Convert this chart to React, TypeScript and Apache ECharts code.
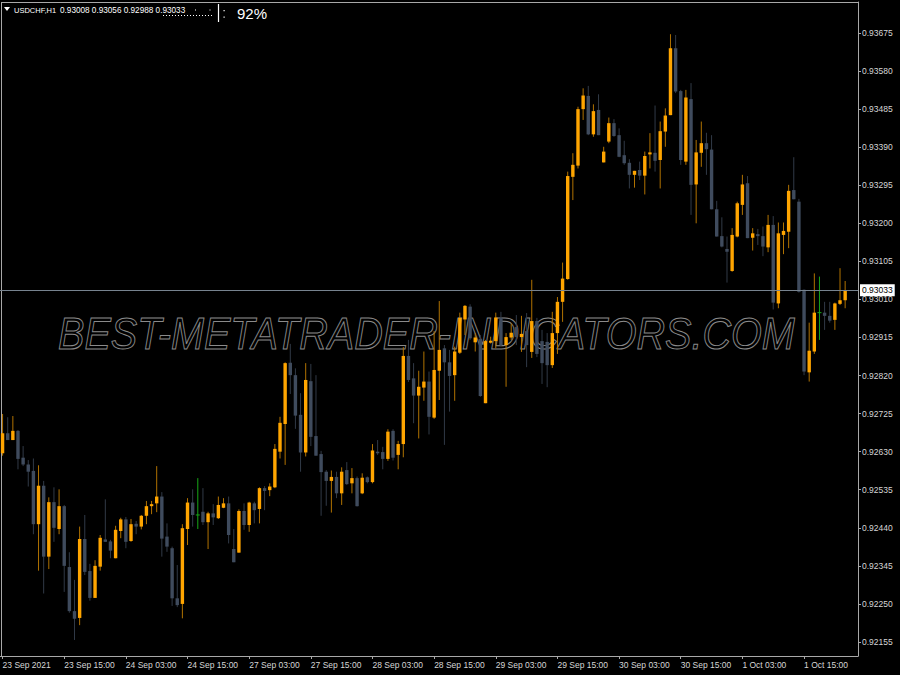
import React, { useEffect, useRef } from "react";
import * as echarts from "echarts";

const SYMBOL = "USDCHF,H1";
const HEADER_OHLC = [0.93008, 0.93056, 0.92988, 0.93033];
const PERCENT_TEXT = "92%";
const WATERMARK = "BEST-METATRADER-INDICATORS.COM";
const LAST_PRICE = 0.93033;

const OPEN = [
  0.92626, 0.92676, 0.92659, 0.92682, 0.92615, 0.92598, 0.92582, 0.92449, 0.92545, 0.92368,
  0.92504, 0.92437, 0.92494, 0.92342, 0.92232, 0.92215, 0.92412, 0.92332, 0.92265, 0.92343,
  0.92411, 0.92406, 0.92364, 0.92432, 0.92461, 0.92407, 0.9245, 0.92443, 0.9247, 0.92494,
  0.92501, 0.92518, 0.92418, 0.92389, 0.92264, 0.9225, 0.92437, 0.92503, 0.92472, 0.9248,
  0.92454, 0.92476, 0.92464, 0.9249, 0.92501, 0.92387, 0.92378, 0.92482, 0.92447, 0.92501,
  0.92487, 0.92539, 0.92534, 0.92541, 0.9263, 0.92699, 0.92852, 0.92821, 0.92722, 0.92628,
  0.92806, 0.92669, 0.92624, 0.9258, 0.92557, 0.92567, 0.92526, 0.92584, 0.92551, 0.92564,
  0.92526, 0.92566, 0.92554, 0.9263, 0.92629, 0.92612, 0.92682, 0.92622, 0.92649, 0.92869,
  0.92813, 0.9277, 0.9279, 0.92805, 0.92715, 0.92832, 0.92888, 0.92853, 0.92821, 0.92877,
  0.9296, 0.92992, 0.92903, 0.92911, 0.92751, 0.92902, 0.92906, 0.92964, 0.92896, 0.92915,
  0.92941, 0.92916, 0.92931, 0.92879, 0.92956, 0.92906, 0.92904, 0.92846, 0.92926, 0.93004,
  0.93061, 0.93316, 0.93344, 0.93485, 0.93518, 0.93422, 0.93483, 0.93352, 0.93404, 0.9345,
  0.9342, 0.9337, 0.93351, 0.93321, 0.93333, 0.93319, 0.93372, 0.93376, 0.93358, 0.93429,
  0.9347, 0.93637, 0.9353, 0.93354, 0.9351, 0.93297, 0.93376, 0.934, 0.93384, 0.93235,
  0.93168, 0.93136, 0.93081, 0.93167, 0.93246, 0.933, 0.93164, 0.93173, 0.93168, 0.9314,
  0.93196, 0.93, 0.93171, 0.93179, 0.93283, 0.93254, 0.93034, 0.92828, 0.9288, 0.92977,
  0.92977, 0.92969, 0.92959, 0.92999, 0.93008,
];

const HIGH = [
  0.92724, 0.92716, 0.92719, 0.92684, 0.92644, 0.92609, 0.92613, 0.92596, 0.92557, 0.92516,
  0.92541, 0.92536, 0.92497, 0.92379, 0.9231, 0.92443, 0.92472, 0.9235, 0.92359, 0.92422,
  0.92511, 0.9241, 0.92445, 0.92465, 0.92467, 0.92462, 0.92457, 0.92472, 0.92507, 0.92507,
  0.92594, 0.92529, 0.92451, 0.92393, 0.92347, 0.92449, 0.92514, 0.92536, 0.92564, 0.92539,
  0.9248, 0.92499, 0.92518, 0.92514, 0.92518, 0.92437, 0.92486, 0.92501, 0.92505, 0.92505,
  0.92541, 0.92544, 0.92551, 0.92649, 0.92717, 0.92853, 0.92899, 0.92838, 0.92776, 0.92851,
  0.92849, 0.92821, 0.92632, 0.92584, 0.92583, 0.9258, 0.92591, 0.92604, 0.92589, 0.92568,
  0.92576, 0.92568, 0.92649, 0.92659, 0.92642, 0.92686, 0.92686, 0.92657, 0.92891, 0.92909,
  0.92851, 0.92832, 0.9288, 0.9283, 0.92931, 0.93006, 0.92896, 0.92884, 0.92892, 0.92977,
  0.92996, 0.92998, 0.92926, 0.92921, 0.92909, 0.92917, 0.92977, 0.92979, 0.92926, 0.9295,
  0.92971, 0.92969, 0.92976, 0.93059, 0.92964, 0.92934, 0.92926, 0.92979, 0.93016, 0.93102,
  0.93329, 0.93375, 0.93491, 0.93537, 0.93543, 0.93497, 0.93522, 0.93391, 0.93464, 0.9346,
  0.93437, 0.93406, 0.9336, 0.93331, 0.93354, 0.93379, 0.93425, 0.93494, 0.93454, 0.93487,
  0.93672, 0.9367, 0.93533, 0.93533, 0.9355, 0.93408, 0.93454, 0.93426, 0.9342, 0.93256,
  0.93215, 0.93167, 0.93188, 0.93254, 0.93321, 0.93318, 0.93188, 0.93186, 0.93192, 0.93221,
  0.93218, 0.93202, 0.93202, 0.93296, 0.93365, 0.93261, 0.93035, 0.92952, 0.93075, 0.93067,
  0.93004, 0.93004, 0.93002, 0.93088, 0.93056,
];

const LOW = [
  0.9262, 0.92659, 0.92659, 0.92586, 0.92594, 0.92543, 0.92424, 0.92333, 0.92276, 0.92337,
  0.92405, 0.92424, 0.9228, 0.92228, 0.9216, 0.92197, 0.92322, 0.92258, 0.92265, 0.92333,
  0.92405, 0.92364, 0.92364, 0.92414, 0.92389, 0.92405, 0.92424, 0.92436, 0.92449, 0.92474,
  0.92479, 0.92368, 0.9238, 0.92245, 0.92242, 0.92214, 0.92397, 0.92443, 0.92437, 0.92447,
  0.92387, 0.92447, 0.92462, 0.92489, 0.92401, 0.92354, 0.92378, 0.92435, 0.9243, 0.92451,
  0.92451, 0.92484, 0.92519, 0.92539, 0.92613, 0.92597, 0.92774, 0.92687, 0.9258, 0.92618,
  0.92644, 0.9262, 0.9247, 0.92495, 0.92478, 0.92514, 0.92497, 0.92547, 0.92526, 0.92493,
  0.92524, 0.92551, 0.92551, 0.92622, 0.92586, 0.92607, 0.92608, 0.92586, 0.92616, 0.92804,
  0.92701, 0.92663, 0.92757, 0.92673, 0.92712, 0.92759, 0.92647, 0.9273, 0.92757, 0.92874,
  0.92921, 0.92909, 0.9288, 0.92767, 0.92751, 0.929, 0.92888, 0.92894, 0.92792, 0.92909,
  0.92896, 0.92879, 0.92841, 0.92864, 0.92866, 0.92799, 0.92791, 0.92839, 0.92874, 0.92954,
  0.93059, 0.93258, 0.93337, 0.93458, 0.9342, 0.93416, 0.9342, 0.93352, 0.934, 0.93416,
  0.93365, 0.93346, 0.93287, 0.93289, 0.93308, 0.93272, 0.93337, 0.93329, 0.93287, 0.93391,
  0.9347, 0.93525, 0.93346, 0.93346, 0.93221, 0.932, 0.93341, 0.93321, 0.93235, 0.93167,
  0.9314, 0.93052, 0.93079, 0.93165, 0.93221, 0.93163, 0.93132, 0.93146, 0.93118, 0.93128,
  0.92985, 0.92988, 0.93123, 0.93138, 0.9326, 0.93027, 0.92821, 0.92805, 0.92874, 0.92909,
  0.92934, 0.92952, 0.92934, 0.92996, 0.92988,
];

const CLOSE = [
  0.92676, 0.92659, 0.92682, 0.92612, 0.92598, 0.9258, 0.92449, 0.92545, 0.92368, 0.92504,
  0.9244, 0.92494, 0.92345, 0.92232, 0.92213, 0.92412, 0.9233, 0.92265, 0.92345, 0.92415,
  0.92405, 0.92383, 0.92435, 0.92461, 0.92405, 0.92449, 0.92443, 0.9247, 0.92494, 0.92499,
  0.92518, 0.92413, 0.92393, 0.92264, 0.92247, 0.92439, 0.92503, 0.92472, 0.92472, 0.92454,
  0.92476, 0.92466, 0.92497, 0.92501, 0.92422, 0.92354, 0.92482, 0.92447, 0.92503, 0.92484,
  0.92539, 0.92532, 0.92543, 0.92637, 0.92702, 0.92851, 0.92821, 0.9272, 0.92628, 0.92809,
  0.92667, 0.9262, 0.92579, 0.92557, 0.92567, 0.92526, 0.9258, 0.92549, 0.92564, 0.92494,
  0.92565, 0.92554, 0.92633, 0.92626, 0.92612, 0.9268, 0.92615, 0.92649, 0.92869, 0.92809,
  0.9277, 0.92792, 0.92805, 0.92717, 0.92834, 0.92884, 0.92853, 0.92819, 0.9288, 0.92964,
  0.92994, 0.92913, 0.92915, 0.92769, 0.92906, 0.92907, 0.92965, 0.92896, 0.92916, 0.92927,
  0.92916, 0.92924, 0.92896, 0.92956, 0.92874, 0.92851, 0.92846, 0.92926, 0.93004, 0.93062,
  0.93318, 0.93346, 0.93485, 0.93519, 0.93422, 0.9348, 0.9342, 0.93379, 0.9345, 0.93418,
  0.93366, 0.9335, 0.93321, 0.93331, 0.93319, 0.93368, 0.93377, 0.93356, 0.9343, 0.93469,
  0.93637, 0.93529, 0.93358, 0.93514, 0.93296, 0.93377, 0.934, 0.93385, 0.93235, 0.93167,
  0.93142, 0.93129, 0.93171, 0.9325, 0.93297, 0.93163, 0.93175, 0.93168, 0.93142, 0.93196,
  0.93002, 0.93175, 0.93181, 0.93281, 0.9326, 0.93029, 0.9283, 0.92882, 0.92977, 0.92977,
  0.92969, 0.92957, 0.93, 0.93008, 0.93033,
];

const Y_TICKS = [
  0.92155, 0.9225, 0.92345, 0.9244, 0.92535, 0.9263, 0.92725, 0.9282, 0.92915,
  0.9301, 0.93105, 0.932, 0.93295, 0.9339, 0.93485, 0.9358, 0.93675,
];

const X_TICK_LABELS = [
  "23 Sep 2021", "23 Sep 15:00", "24 Sep 03:00", "24 Sep 15:00", "27 Sep 03:00",
  "27 Sep 15:00", "28 Sep 03:00", "28 Sep 15:00", "29 Sep 03:00", "29 Sep 15:00",
  "30 Sep 03:00", "30 Sep 15:00", "1 Oct 03:00", "1 Oct 15:00",
];
const X_TICK_EVERY = 12;
const START_UTC = Date.UTC(2021, 8, 23, 3);
const EMPTY_SLOTS_RIGHT = 2;

// layout / style constants
const Y_MIN = 0.9212;
const Y_MAX = 0.937524;
const FONT = '"Liberation Sans", Arial, sans-serif';
const TEXT = "#d6d6d6";
const FRAME = "#a8a8a8";
const BULL = "#ffa500";
const BULL_WICK = "#b07200";
const BEAR = "#3f4b5d";
const BEAR_WICK = "#313a47";
const DOJI = "#17a817";
const PRICE_LINE = "#77838f";

const MONTHS = ["Jan", "Feb", "Mar", "Apr", "May", "Jun", "Jul", "Aug", "Sep", "Oct", "Nov", "Dec"];

function buildCategories(n: number): string[] {
  const out: string[] = [];
  let t = START_UTC;
  while (out.length < n) {
    const d = new Date(t);
    const wd = d.getUTCDay();
    if (wd !== 0 && wd !== 6) {
      const hh = String(d.getUTCHours()).padStart(2, "0");
      out.push(`${d.getUTCDate()} ${MONTHS[d.getUTCMonth()]} ${hh}:00`);
    }
    t += 3600000;
  }
  return out;
}

export default function App() {
  const ref = useRef<HTMLDivElement>(null);

  useEffect(() => {
    document.body.style.margin = "0";
    document.body.style.background = "#000";
    const n = OPEN.length;
    const categories = buildCategories(n + EMPTY_SLOTS_RIGHT);
    const data = OPEN.map((o, i) => [i, o, CLOSE[i], LOW[i], HIGH[i]]);
    const isTick = (i: number) => i % X_TICK_EVERY === 0 && i / X_TICK_EVERY < X_TICK_LABELS.length;

    const chart = echarts.init(ref.current!, undefined, { renderer: "svg", width: 900, height: 675 });
    const option: any = {
      animation: false,
      backgroundColor: "#000",
      grid: { left: 0, top: 2, right: 42, bottom: 19, outerBoundsMode: "none" },
      xAxis: {
        type: "category",
        data: categories,
        boundaryGap: true,
        axisLine: { show: true, lineStyle: { color: FRAME, width: 1 } },
        axisTick: {
          show: true,
          alignWithLabel: true,
          length: 3,
          interval: (i: number) => isTick(i),
          lineStyle: { color: FRAME },
        },
        axisLabel: {
          interval: (i: number) => isTick(i),
          formatter: (_v: string, i: number) => X_TICK_LABELS[i / X_TICK_EVERY] ?? "",
          align: "left",
          color: TEXT,
          fontSize: 8.5,
          fontFamily: FONT,
          margin: 4,
        },
        splitLine: { show: false },
      },
      yAxis: {
        type: "value",
        position: "right",
        min: Y_MIN,
        max: Y_MAX,
        axisLine: { show: true, lineStyle: { color: FRAME, width: 1 } },
        axisTick: { show: true, length: 3, customValues: Y_TICKS, lineStyle: { color: FRAME } },
        axisLabel: {
          customValues: Y_TICKS,
          formatter: (v: number) => v.toFixed(5),
          color: TEXT,
          fontSize: 8.5,
          fontFamily: FONT,
          margin: 4,
        },
        splitLine: { show: false },
      },
      graphic: [
        {
          type: "text",
          x: 58,
          y: 334,
          scaleX: 0.9,
          z: 0,
          silent: true,
          style: {
            text: WATERMARK,
            fontSize: 44,
            fontStyle: "italic",
            fontFamily: FONT,
            fill: "rgba(0,0,0,0)",
            stroke: "#8a8a8a",
            lineWidth: 1,
            verticalAlign: "middle",
            align: "left",
          },
        },
        { type: "line", shape: { x1: 1.5, y1: 2, x2: 1.5, y2: 656 }, style: { stroke: FRAME, lineWidth: 1 } },
        { type: "line", shape: { x1: 1.5, y1: 2.5, x2: 858, y2: 2.5 }, style: { stroke: FRAME, lineWidth: 1 } },
        { type: "polygon", shape: { points: [[4, 7], [10, 7], [7, 11]] }, style: { fill: "#ffffff" } },
        {
          type: "text",
          x: 14,
          y: 10,
          style: { text: SYMBOL, fill: "#ffffff", fontSize: 7.5, fontFamily: FONT, verticalAlign: "middle" },
        },
        {
          type: "text",
          x: 60,
          y: 10,
          style: {
            text: HEADER_OHLC.map((v) => v.toFixed(5)).join(" "),
            fill: "#ffffff",
            fontSize: 8.2,
            fontFamily: FONT,
            verticalAlign: "middle",
          },
        },
        {
          type: "line",
          shape: { x1: 163, y1: 15.5, x2: 214, y2: 15.5 },
          style: { stroke: "#ffffff", lineWidth: 1, lineDash: [1, 2] },
        },
        { type: "rect", shape: { x: 195, y: 9.5, width: 1, height: 1 }, style: { fill: "#ffffff" } },
        { type: "rect", shape: { x: 209.5, y: 9.5, width: 1, height: 1 }, style: { fill: "#ffffff" } },
        { type: "line", shape: { x1: 218.5, y1: 4, x2: 218.5, y2: 22 }, style: { stroke: "#ffffff", lineWidth: 1.2 } },
        { type: "rect", shape: { x: 223.5, y: 10, width: 1.2, height: 1.2 }, style: { fill: "#ffffff" } },
        { type: "rect", shape: { x: 223.5, y: 16.5, width: 1.2, height: 1.2 }, style: { fill: "#ffffff" } },
        {
          type: "text",
          x: 237,
          y: 13,
          style: { text: PERCENT_TEXT, fill: "#ffffff", fontSize: 15, fontFamily: FONT, verticalAlign: "middle" },
        },
      ],
      series: [
        {
          type: "custom",
          name: SYMBOL,
          data,
          encode: { x: 0, y: [1, 2, 3, 4] },
          clip: true,
          renderItem: (_params: any, api: any) => {
            const i = api.value(0);
            const o = api.value(1);
            const c = api.value(2);
            const l = api.value(3);
            const h = api.value(4);
            const po = api.coord([i, o]);
            const pc = api.coord([i, c]);
            const pl = api.coord([i, l]);
            const ph = api.coord([i, h]);
            const x = po[0];
            const bw = 3.4;
            if (o === c) {
              return {
                type: "group",
                children: [
                  { type: "line", shape: { x1: x, y1: ph[1], x2: x, y2: pl[1] }, style: { stroke: DOJI, lineWidth: 1 } },
                  { type: "line", shape: { x1: x - 2, y1: po[1], x2: x + 2, y2: po[1] }, style: { stroke: DOJI, lineWidth: 1 } },
                ],
              };
            }
            const bull = c > o;
            const top = Math.min(po[1], pc[1]);
            const hgt = Math.max(Math.abs(po[1] - pc[1]), 1);
            return {
              type: "group",
              children: [
                {
                  type: "line",
                  shape: { x1: x, y1: ph[1], x2: x, y2: pl[1] },
                  style: { stroke: bull ? BULL_WICK : BEAR_WICK, lineWidth: 1 },
                },
                {
                  type: "rect",
                  shape: { x: x - bw / 2, y: top, width: bw, height: hgt },
                  style: { fill: bull ? BULL : BEAR },
                },
              ],
            };
          },
        },
        {
          type: "line",
          data: [],
          silent: true,
          showSymbol: false,
          markLine: {
            silent: true,
            precision: 5,
            symbol: ["none", "none"],
            lineStyle: { color: PRICE_LINE, width: 1, type: "solid" },
            label: {
              show: true,
              position: "end",
              formatter: LAST_PRICE.toFixed(5),
              backgroundColor: "#ffffff",
              color: "#000000",
              padding: [2, 2, 1, 2],
              distance: 2,
              fontSize: 8.5,
              fontFamily: FONT,
            },
            emphasis: { disabled: true },
            data: [{ yAxis: LAST_PRICE }],
          },
        },
      ],
    };
    chart.setOption(option);
    return () => chart.dispose();
  }, []);

  return <div ref={ref} style={{ width: 900, height: 675, position: "fixed", left: 0, top: 0 }} />;
}
